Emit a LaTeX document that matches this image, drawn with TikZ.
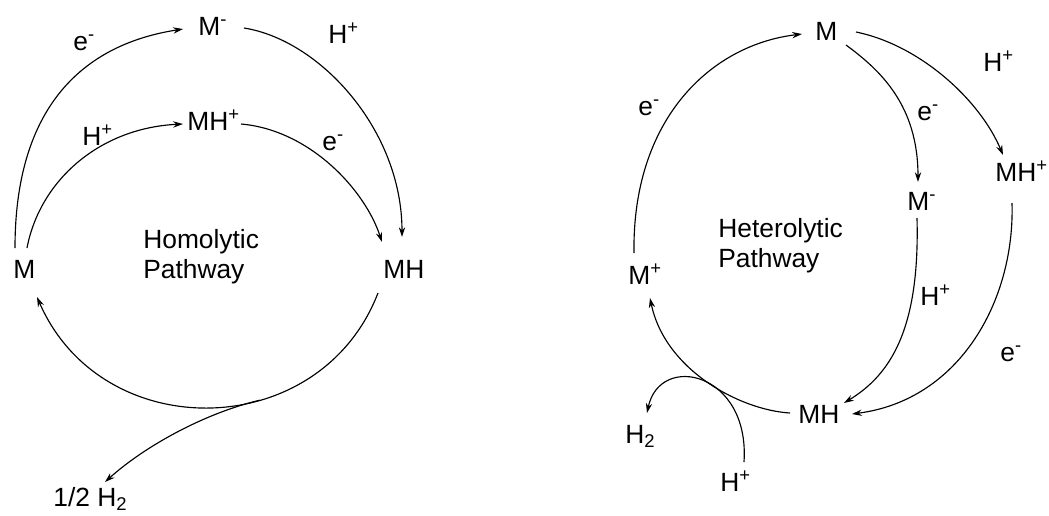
\documentclass[tikz,border=0pt]{standalone}
\usepackage{fontspec}
\setmainfont{Liberation Sans}
\usetikzlibrary{arrows.meta}
\begin{document}
\begin{tikzpicture}[x=0.02cm,y=-0.02cm,
  lbl/.style={anchor=base west,inner sep=0pt,font=\fontsize{15}{17}\selectfont},
  rx/.style={line width=0.65pt,-{Stealth[length=5.6pt,width=3.6pt]}},
  ln/.style={line width=0.65pt}]
\useasboundingbox (0,0) rectangle (1049,515);
% ---------- Homolytic ----------
\node[lbl] (Ml) at (13,278) {M};
\node[lbl] (Mm) at (198,35) {M\textsuperscript{-}};
\node[lbl] (MHp) at (187,130) {MH\textsuperscript{+}};
\node[lbl] (MH) at (383,278) {MH};
\node[lbl] (half) at (53,506) {1/2 H\textsubscript{2}};
\node[lbl] (eA) at (73,50) {e\textsuperscript{-}};
\node[lbl] (HpA) at (328,43) {H\textsuperscript{+}};
\node[lbl] (HpB) at (82,145) {H\textsuperscript{+}};
\node[lbl] (eB) at (322,150) {e\textsuperscript{-}};
\node[lbl,align=left,anchor=north west,font=\fontsize{15}{17}\selectfont] (homo) at (143,229) {Homolytic\\Pathway};

\draw[rx] ([shift={(2,-30)}]Ml.base west) .. controls +(0,-138) and +(-103,16) .. ([shift={(-15,-6)}]Mm.base west);
\draw[rx] ([shift={(46,-7)}]Mm.base west) .. controls +(76,12) and +(0,-107) .. ([shift={(19,-41)}]MH.base west);
\draw[rx] ([shift={(14,-30)}]Ml.base west) .. controls +(13,-68) and +(-83,4) .. ([shift={(-4,-6)}]MHp.base west);
\draw[rx] ([shift={(54,-6)}]MHp.base west) .. controls +(69,6) and +(-17,-52) .. ([shift={(-1,-36)}]MH.base west);
\draw[rx] ([shift={(-5,15)}]MH.base west) .. controls +(-58,150) and +(65,149.5) .. coordinate[pos=0.38] (br) ([shift={(24,19)}]Ml.base west);
\draw[rx] (br) .. controls +(-55,13) and +(40,-36) .. ([shift={(52,-24)}]half.base west);

% ---------- Heterolytic ----------
\node[lbl] (Mt) at (815,40) {M};
\node[lbl] (MHpR) at (995,181) {MH\textsuperscript{+}};
\node[lbl] (MmR) at (907,210) {M\textsuperscript{-}};
\node[lbl] (Mp) at (628,284) {M\textsuperscript{+}};
\node[lbl] (MHR) at (798,423) {MH};
\node[lbl] (H2) at (625,443) {H\textsubscript{2}};
\node[lbl] (HpC) at (720,491) {H\textsuperscript{+}};
\node[lbl] (HpD) at (983,71) {H\textsuperscript{+}};
\node[lbl] (eC) at (638,115) {e\textsuperscript{-}};
\node[lbl] (eD) at (917,120) {e\textsuperscript{-}};
\node[lbl] (HpE) at (920,305) {H\textsuperscript{+}};
\node[lbl] (eE) at (1000,361) {e\textsuperscript{-}};
\node[lbl,align=left,anchor=north west,font=\fontsize{15}{17}\selectfont] (hetero) at (718,218) {Heterolytic\\Pathway};

\draw[rx] ([shift={(6,-31)}]Mp.base west) .. controls +(-2,-133) and +(-92,11) .. ([shift={(-13,-6)}]Mt.base west);
\draw[rx] ([shift={(41,-8)}]Mt.base west) .. controls +(64,13) and +(-23,-55) .. ([shift={(8,-26)}]MHpR.base west);
\draw[rx] ([shift={(31,5)}]Mt.base west) .. controls +(34,25) and +(0,-77) .. ([shift={(11,-28)}]MmR.base west);
\draw[rx] ([shift={(10,8)}]MmR.base west) .. controls +(3,112) and +(46,-28) .. ([shift={(46,-20)}]MHR.base west);
\draw[rx] ([shift={(17,22)}]MHpR.base west) .. controls +(3,97) and +(108,-14) .. ([shift={(54,-9)}]MHR.base west);
\draw[rx] ([shift={(-8,-10)}]MHR.base west) .. controls +(-50,-3) and +(15,72) .. ([shift={(22,14)}]Mp.base west);
\draw[rx] ([shift={(24,-29)}]HpC.base west) .. controls +(6,-90) and +(13,-61) .. ([shift={(22,-30)}]H2.base west);
\end{tikzpicture}
\end{document}
